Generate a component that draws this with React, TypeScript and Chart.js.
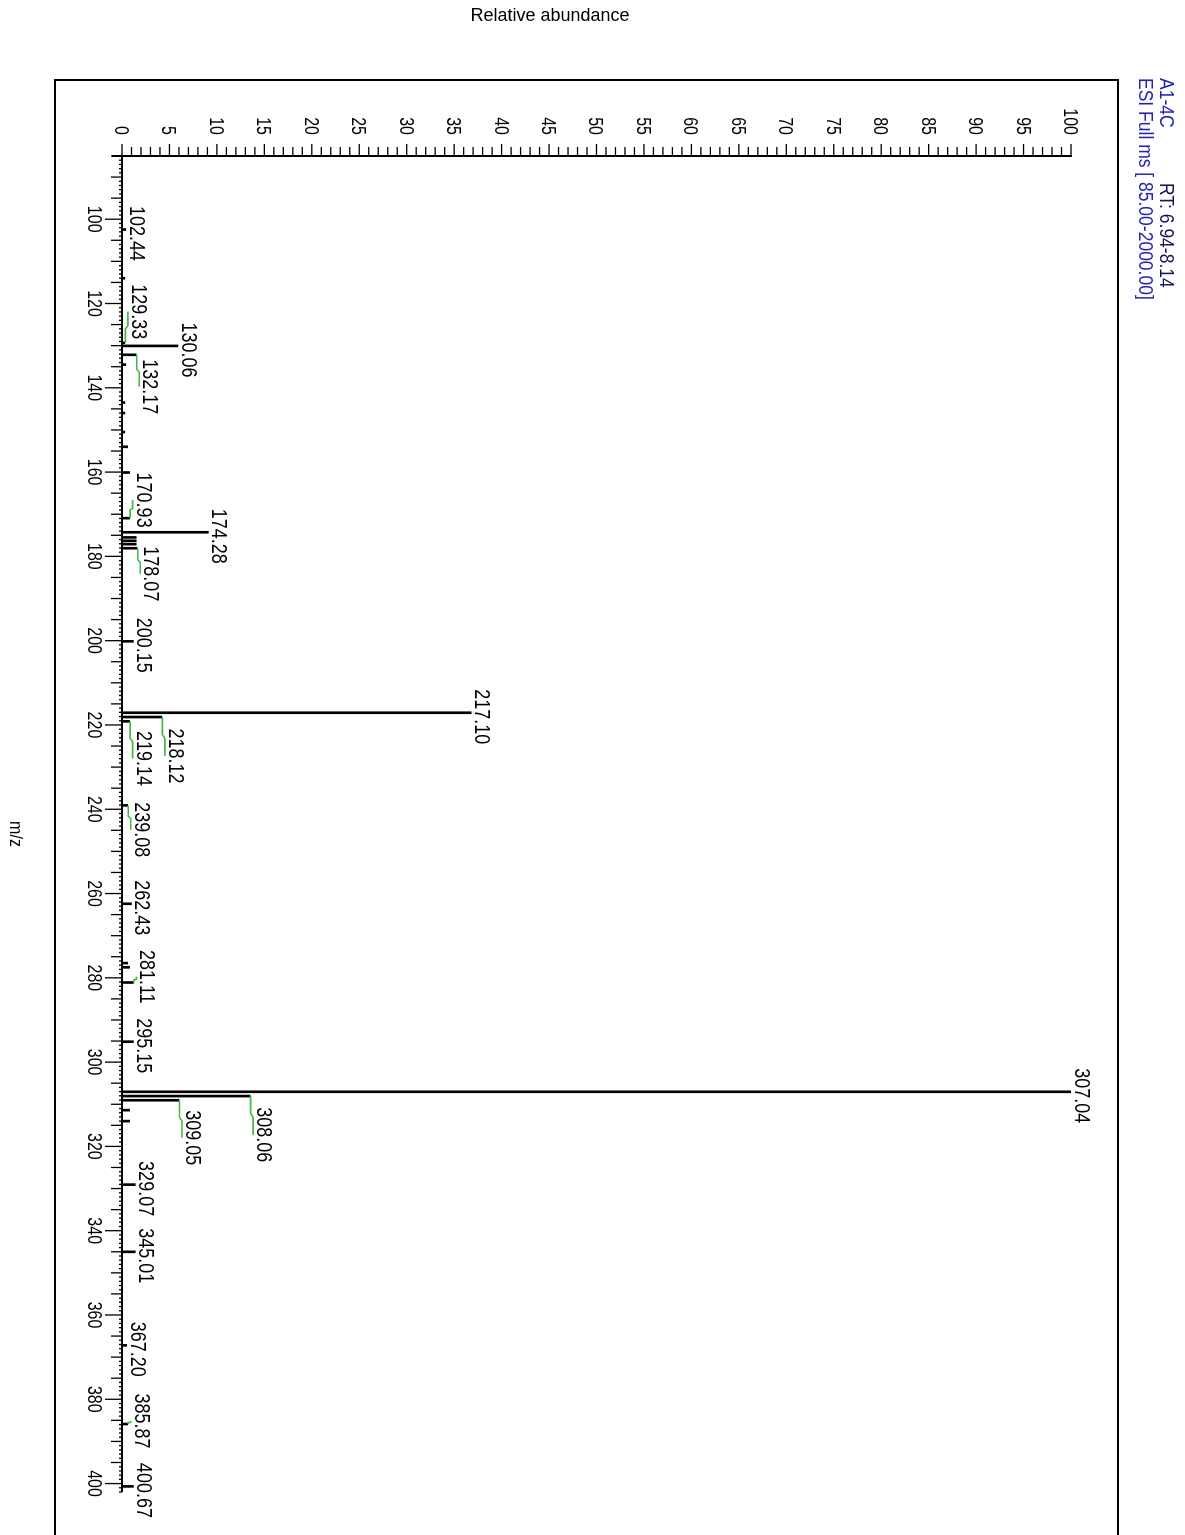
import React, { useEffect, useRef } from 'react';
import { Chart, registerables } from 'chart.js';

Chart.register(...registerables);

// ---------- data ----------
const MZ_MIN = 85;
const MZ_MAX = 402;
const ABUNDANCE_MIN = 0;
const ABUNDANCE_MAX = 100;

// labelled peaks (m/z, relative abundance)
const labelledMz = [
  102.44, 129.33, 130.06, 132.17, 170.93, 174.28, 178.07, 200.15, 217.1, 218.12, 219.14, 239.08,
  262.43, 281.11, 295.15, 307.04, 308.06, 309.05, 329.07, 345.01, 367.2, 385.87, 400.67,
];
const labelledAbundance = [
  0.4, 0.3, 5.9, 1.5, 0.8, 9.1, 1.6, 1.2, 36.8, 4.2, 0.8, 0.6,
  1.0, 1.2, 1.2, 100, 13.5, 6.0, 1.4, 1.4, 0.5, 0.6, 1.2,
];
// where each peak label is placed along the m/z axis (displaced labels get a leader line)
const labelAnchorMz = [
  102.44, 121.0, 130.06, 138.8, 165.7, 174.28, 183.2, 200.15, 217.1, 226.4, 227.0, 243.9,
  262.43, 278.8, 295.15, 307.04, 316.3, 317.0, 329.07, 345.01, 367.2, 384.2, 400.67,
];
const labelText = labelledMz.map((v) => v.toFixed(2));

// small unlabelled peaks
const minorMz = [114.0, 134.5, 143.5, 146.0, 150.5, 154.0, 160.1, 175.5, 176.3, 177.1, 276.5, 277.5, 311.4, 314.0];
const minorAbundance = [0.3, 0.4, 0.3, 0.3, 0.3, 0.6, 0.8, 1.5, 1.5, 1.5, 0.6, 0.8, 0.8, 0.8];

const mzTickLabels = [100, 120, 140, 160, 180, 200, 220, 240, 260, 280, 300, 320, 340, 360, 380, 400];
const abundanceTickLabels = [0, 5, 10, 15, 20, 25, 30, 35, 40, 45, 50, 55, 60, 65, 70, 75, 80, 85, 90, 95, 100];

const xTitle = 'm/z';
const yTitle = 'Relative abundance';
const sampleName = 'A1-4C';
const retentionTime = 'RT: 6.94-8.14';
const scanFilter = 'ESI Full ms [ 85.00-2000.00]';

// ---------- layout (unrotated canvas; the whole canvas is turned 90deg clockwise) ----------
const CANVAS_W = 1560;
const CANVAS_H = 1185;
const AREA_LEFT = 156;
const AREA_RIGHT = 1492;
const AREA_TOP = 114;
const AREA_BOTTOM = 1063;

const FONT = '"Liberation Sans", Arial, sans-serif';
const LEADER = '#45b845';

function stretchedText(
  ctx: CanvasRenderingContext2D,
  text: string,
  x: number,
  y: number,
  align: CanvasTextAlign,
  size: number,
  sy: number,
  color: string,
) {
  ctx.save();
  ctx.translate(x, y);
  ctx.scale(1, sy);
  ctx.font = `${size}px ${FONT}`;
  ctx.fillStyle = color;
  ctx.textAlign = align;
  ctx.textBaseline = 'alphabetic';
  ctx.fillText(text, 0, 0);
  ctx.restore();
}

const spectrumPlugin = {
  id: 'spectrumDecor',
  beforeDatasetsDraw(chart: any) {
    const ctx: CanvasRenderingContext2D = chart.ctx;
    const xs = chart.scales.x;
    const ys = chart.scales.y;
    const base = ys.getPixelForValue(0);
    const left = xs.getPixelForValue(MZ_MIN);
    ctx.save();
    // frame
    ctx.strokeStyle = '#000';
    ctx.lineWidth = 2;
    ctx.strokeRect(80, 67, CANVAS_W, 1063);

    // abundance axis
    ctx.lineWidth = 2;
    ctx.beginPath();
    ctx.moveTo(left, base + 10);
    ctx.lineTo(left, ys.getPixelForValue(ABUNDANCE_MAX) - 1);
    ctx.stroke();
    ctx.lineWidth = 1.3;
    ys.ticks.forEach((t: any) => {
      const py = ys.getPixelForValue(t.value);
      const len = t.value % 5 === 0 ? 12 : 9;
      ctx.beginPath();
      ctx.moveTo(left - len, py);
      ctx.lineTo(left, py);
      ctx.stroke();
    });
    abundanceTickLabels.forEach((v) => {
      const py = ys.getPixelForValue(v);
      stretchedText(ctx, String(v), left - 21, py + 7, 'right', 16, 1.25, '#000');
    });

    // m/z axis
    ctx.lineWidth = 2;
    ctx.beginPath();
    ctx.moveTo(left - 1, base);
    ctx.lineTo(xs.getPixelForValue(MZ_MAX), base);
    ctx.stroke();
    ctx.lineWidth = 1.3;
    xs.ticks.forEach((t: any) => {
      const v = Math.round(t.value);
      const px = xs.getPixelForValue(t.value);
      const len = v % 20 === 0 ? 17 : v % 5 === 0 ? 11 : 3;
      ctx.beginPath();
      ctx.moveTo(px, base);
      ctx.lineTo(px, base + len);
      ctx.stroke();
    });
    mzTickLabels.forEach((v) => {
      const px = xs.getPixelForValue(v);
      stretchedText(ctx, String(v), px, base + 34, 'center', 16, 1.25, '#000');
    });
    ctx.restore();
  },
  afterDatasetsDraw(chart: any) {
    const ctx: CanvasRenderingContext2D = chart.ctx;
    const xs = chart.scales.x;
    const ys = chart.scales.y;
    ctx.save();
    labelledMz.forEach((mz, i) => {
      const px = xs.getPixelForValue(mz);
      const py = ys.getPixelForValue(labelledAbundance[i]);
      const lx = xs.getPixelForValue(labelAnchorMz[i]) + 4;
      const displaced = labelAnchorMz[i] !== mz;
      if (displaced) {
        const ly = py - 3;
        ctx.strokeStyle = LEADER;
        ctx.lineWidth = 1.6;
        ctx.beginPath();
        ctx.moveTo(px, py - 0.5);
        ctx.lineTo(px + (lx - px) * 0.45, py - 0.5);
        ctx.lineTo(px + (lx - px) * 0.55, ly);
        ctx.lineTo(lx, ly);
        ctx.stroke();
      }
      stretchedText(ctx, labelText[i], lx, py - (displaced ? 7 : 4), 'center', 18, 1.2, '#000');
    });

    // titles
    ctx.save();
    ctx.translate(16, 635);
    ctx.rotate(-Math.PI / 2);
    ctx.font = `18px ${FONT}`;
    ctx.fillStyle = '#000';
    ctx.textAlign = 'center';
    ctx.textBaseline = 'middle';
    ctx.fillText(yTitle, 0, 0);
    ctx.restore();

    stretchedText(ctx, xTitle, 834, 1175, 'center', 16, 1.15, '#000');

    // header
    stretchedText(ctx, sampleName, 78, 25, 'left', 17.5, 1.15, '#2323b4');
    stretchedText(ctx, retentionTime, 183, 25, 'left', 17.5, 1.15, '#14145a');
    stretchedText(ctx, scanFilter, 78, 46, 'left', 17.5, 1.15, '#2323b4');
    ctx.restore();
  },
};

export default function App() {
  const canvasRef = useRef<HTMLCanvasElement | null>(null);

  useEffect(() => {
    const canvas = canvasRef.current;
    if (!canvas) return;
    const chart = new Chart(canvas, {
      type: 'bar',
      data: {
        datasets: [
          {
            data: labelledMz.map((x, i) => ({ x, y: labelledAbundance[i] })),
            backgroundColor: '#000',
            borderWidth: 0,
            barThickness: 2,
            grouped: false,
          } as any,
          {
            data: minorMz.map((x, i) => ({ x, y: minorAbundance[i] })),
            backgroundColor: '#000',
            borderWidth: 0,
            barThickness: 2,
            grouped: false,
          } as any,
        ],
      },
      options: {
        animation: false,
        responsive: false,
        events: [],
        layout: { padding: { left: 0, right: CANVAS_W - AREA_RIGHT, top: AREA_TOP, bottom: 0 } },
        plugins: { legend: { display: false }, tooltip: { enabled: false }, title: { display: false } },
        scales: {
          x: {
            type: 'linear',
            min: MZ_MIN,
            max: MZ_MAX,
            offset: false,
            grid: { display: false },
            border: { display: false },
            ticks: { display: false, stepSize: 1 },
            afterFit: (s: any) => {
              s.height = CANVAS_H - AREA_BOTTOM;
            },
          },
          y: {
            type: 'linear',
            min: ABUNDANCE_MIN,
            max: ABUNDANCE_MAX,
            grid: { display: false },
            border: { display: false },
            ticks: { display: false, stepSize: 1 },
            afterFit: (s: any) => {
              s.width = AREA_LEFT;
            },
          },
        },
      } as any,
      plugins: [spectrumPlugin],
    });
    return () => chart.destroy();
  }, []);

  return (
    <div
      style={{
        position: 'fixed',
        left: 0,
        top: 0,
        width: 1185,
        height: 1535,
        overflow: 'hidden',
        background: '#fff',
      }}
    >
      <canvas
        ref={canvasRef}
        width={CANVAS_W}
        height={CANVAS_H}
        style={{
          position: 'absolute',
          left: 0,
          top: 0,
          width: `${CANVAS_W}px`,
          height: `${CANVAS_H}px`,
          transformOrigin: '0 0',
          transform: 'translate(1185px, 0px) rotate(90deg)',
        }}
      />
    </div>
  );
}
